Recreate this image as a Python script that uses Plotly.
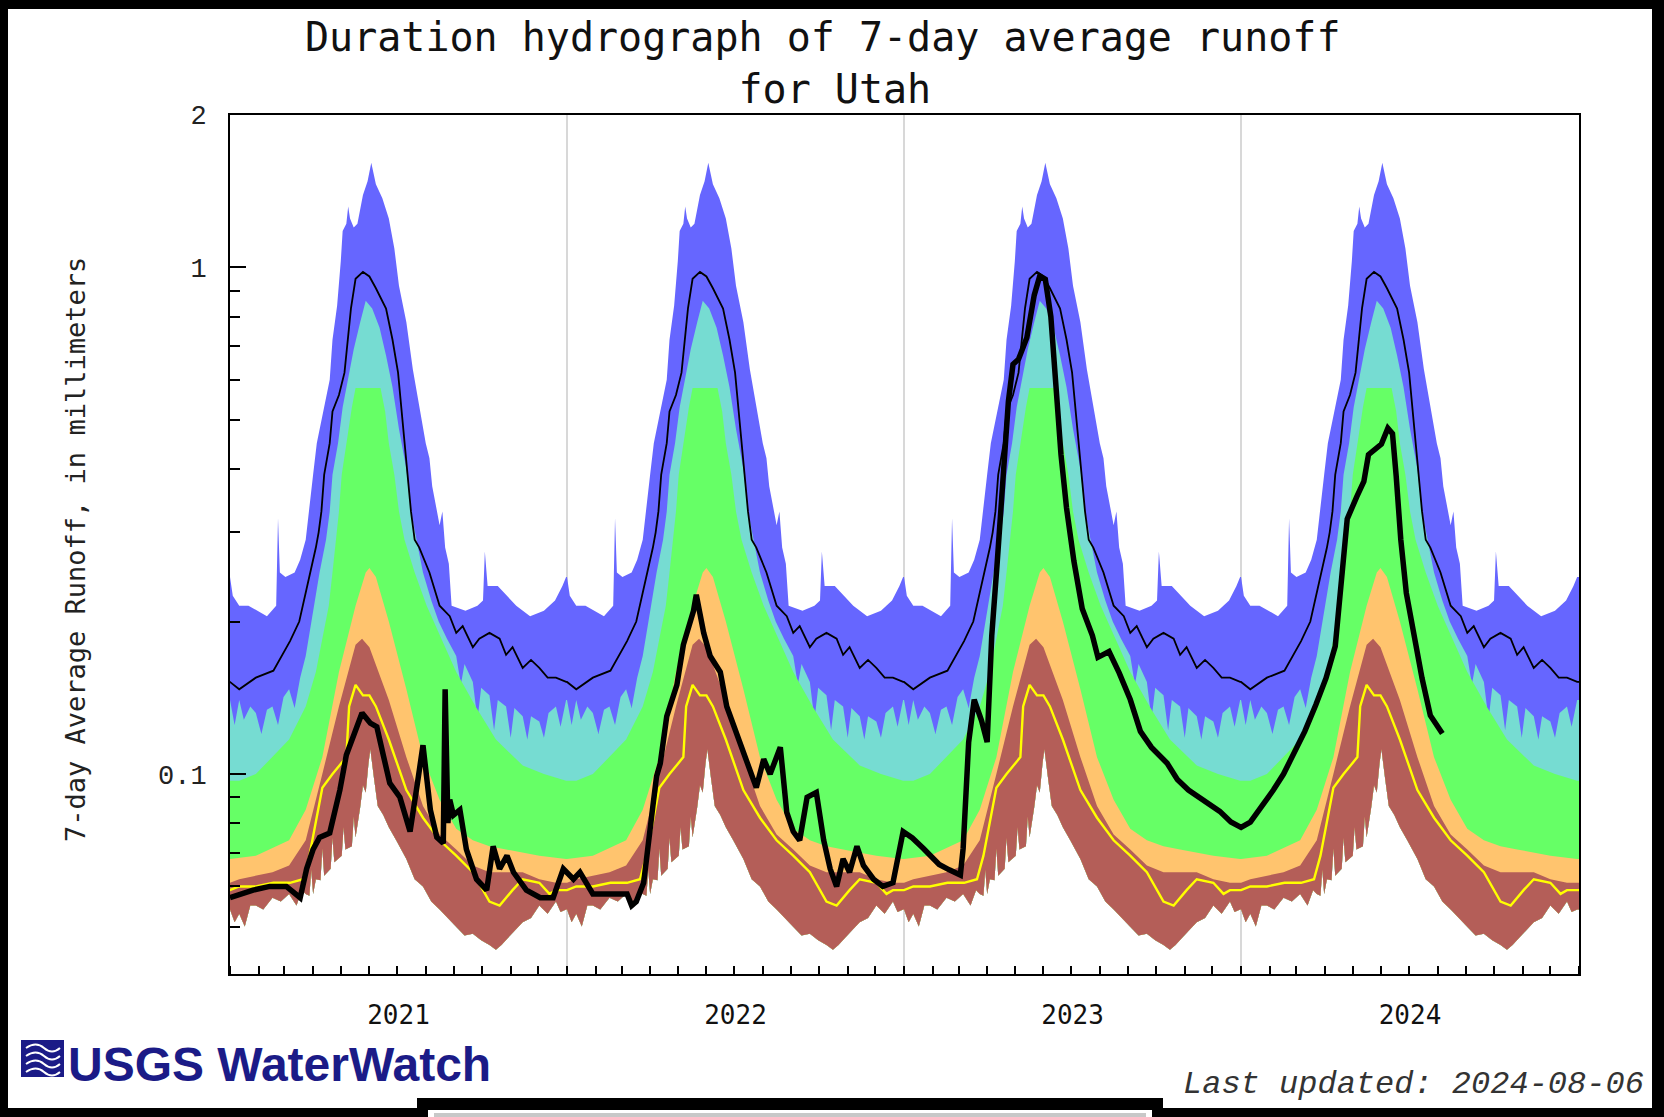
import math
import pandas as pd
import plotly.graph_objects as go

# ---- Daily duration statistics (day-of-year -> 7-day average runoff, mm) ----
max_doy = [0, 3, 10, 20, 30, 40, 50, 52, 54, 60, 70, 76, 82, 86, 90, 94, 99, 104, 108, 111, 116, 120, 122,
           126, 128, 130, 134, 138, 144, 149, 153, 158, 165, 172, 178, 183, 191, 198, 205, 212, 216, 219,
           227, 230, 233, 237, 240, 255, 268, 274, 276, 279, 290, 300, 310, 325, 340, 352, 360, 364]
max_val = [0.245, 0.225, 0.215, 0.215, 0.21, 0.205, 0.215, 0.32, 0.25, 0.245, 0.25, 0.265, 0.29, 0.34, 0.39,
           0.45, 0.50, 0.55, 0.60, 0.72, 0.84, 1.03, 1.18, 1.22, 1.32, 1.25, 1.20, 1.22, 1.39, 1.48, 1.61,
           1.46, 1.37, 1.25, 1.09, 0.92, 0.78, 0.63, 0.53, 0.45, 0.42, 0.37, 0.31, 0.33, 0.28, 0.26, 0.215,
           0.21, 0.215, 0.22, 0.275, 0.235, 0.235, 0.225, 0.215, 0.205, 0.21, 0.22, 0.235, 0.245]

p90_doy = [0, 5, 10, 15, 22, 28, 34, 40, 46, 52, 58, 64, 70, 76, 82, 90, 97, 104, 108, 111, 117, 122, 128,
           134, 141, 147, 154, 162, 169, 176, 183, 191, 196, 202, 209, 218, 226, 235, 245, 250, 254, 263,
           268, 272, 281, 286, 290, 299, 304, 308, 317, 322, 326, 335, 340, 345, 353, 358, 364]
p90_val = [0.14, 0.125, 0.14, 0.128, 0.136, 0.132, 0.12, 0.134, 0.136, 0.125, 0.142, 0.147, 0.135, 0.155,
           0.171, 0.21, 0.25, 0.29, 0.33, 0.39, 0.45, 0.53, 0.61, 0.69, 0.78, 0.86, 0.83, 0.76, 0.67, 0.58,
           0.48, 0.40, 0.33, 0.29, 0.25, 0.22, 0.20, 0.185, 0.171, 0.15, 0.165, 0.152, 0.128, 0.148, 0.143,
           0.122, 0.14, 0.136, 0.118, 0.135, 0.13, 0.117, 0.13, 0.127, 0.118, 0.132, 0.136, 0.124, 0.14]

p75_doy = [0, 10, 28, 46, 64, 82, 93, 100, 107, 111, 115, 118, 121, 126, 132, 136, 163, 168, 172, 178, 183,
           189, 200, 213, 229, 245, 266, 288, 317, 340, 364]
p75_val = [0.097, 0.097, 0.10, 0.108, 0.117, 0.136, 0.159, 0.185, 0.215, 0.25, 0.29, 0.33, 0.39, 0.45, 0.53,
           0.578, 0.578, 0.52, 0.45, 0.39, 0.33, 0.29, 0.25, 0.215, 0.185, 0.159, 0.136, 0.117, 0.104,
           0.10, 0.097]

p25_doy = [0, 28, 64, 82, 100, 118, 136, 147, 151, 158, 172, 191, 209, 227, 245, 263, 281, 299, 317, 335, 364]
p25_val = [0.068, 0.069, 0.074, 0.085, 0.108, 0.159, 0.215, 0.25, 0.255, 0.245, 0.20, 0.147, 0.108, 0.089,
           0.078, 0.074, 0.072, 0.071, 0.07, 0.069, 0.068]

p10_doy = [0, 10, 28, 46, 64, 82, 100, 118, 136, 143, 151, 172, 191, 209, 227, 245, 263, 281, 317, 335, 353, 364]
p10_val = [0.061, 0.062, 0.063, 0.064, 0.066, 0.074, 0.10, 0.136, 0.18, 0.185, 0.178, 0.14, 0.108, 0.0865,
           0.076, 0.071, 0.066, 0.064, 0.064, 0.062, 0.061, 0.061]

min_doy = [0, 5, 10, 16, 22, 28, 36, 46, 55, 64, 72, 78, 82, 86, 88, 90, 93, 98, 100, 102, 109, 111, 113,
           121, 123, 125, 132, 134, 136, 141, 144, 147, 150, 152, 154, 156, 160, 166, 172, 180, 191, 200,
           209, 218, 227, 236, 245, 254, 263, 272, 281, 288, 294, 299, 308, 317, 326, 335, 344, 353, 358, 364]
min_val = [0.054, 0.051, 0.053, 0.050, 0.055, 0.055, 0.054, 0.057, 0.056, 0.058, 0.055, 0.059, 0.058,
           0.0575, 0.0647, 0.058, 0.062, 0.0617, 0.0713, 0.063, 0.065, 0.0748, 0.067, 0.069, 0.0785, 0.071,
           0.072, 0.0824, 0.075, 0.086, 0.095, 0.092, 0.105, 0.112, 0.105, 0.098, 0.0865, 0.083, 0.0785,
           0.074, 0.068, 0.062, 0.060, 0.056, 0.054, 0.052, 0.050, 0.048, 0.0484, 0.047, 0.046, 0.045,
           0.046, 0.047, 0.049, 0.051, 0.052, 0.055, 0.053, 0.056, 0.0534, 0.054]

mean_doy = [0, 10, 28, 47, 65, 75, 86, 93, 96, 99, 102, 108, 111, 118, 124, 128, 131, 136, 144, 151, 158,
            169, 176, 182, 187, 192, 196, 200, 205, 216, 227, 238, 245, 252, 263, 270, 281, 292, 299, 306,
            317, 326, 335, 344, 353, 364]
mean_val = [0.152, 0.147, 0.155, 0.16, 0.183, 0.20, 0.245, 0.28, 0.30, 0.33, 0.39, 0.45, 0.52, 0.56, 0.62,
            0.72, 0.83, 0.95, 0.98, 0.96, 0.91, 0.83, 0.72, 0.62, 0.49, 0.39, 0.33, 0.29, 0.28, 0.25, 0.215,
            0.205, 0.19, 0.196, 0.178, 0.185, 0.19, 0.185, 0.172, 0.178, 0.162, 0.168, 0.162, 0.155, 0.155,
            0.152]

median_doy = [0, 10, 28, 47, 65, 79, 86, 100, 111, 126, 129, 136, 144, 151, 158, 172, 191, 209, 227, 245,
              263, 281, 292, 306, 317, 335, 346, 353, 364]
median_val = [0.059, 0.06, 0.06, 0.061, 0.061, 0.062, 0.069, 0.094, 0.10, 0.108, 0.136, 0.15, 0.143, 0.143,
              0.136, 0.117, 0.093, 0.082, 0.074, 0.069, 0.064, 0.056, 0.055, 0.059, 0.062, 0.061, 0.058,
              0.059, 0.059]

# ---- Observed 7-day average runoff, days counted from 2021-01-01 ----
obs_day = [0, 11, 25, 43, 61, 76, 83, 90, 97, 108, 119, 126, 133, 141, 143, 152, 159, 166, 173, 184, 195,
           203, 209, 217, 224, 231, 233, 236, 238, 242, 249, 256, 267, 278, 285, 292, 300, 307, 321, 336,
           350, 361, 372, 379, 393, 408, 430, 435, 440, 448, 451, 455, 458, 462, 466, 473, 476, 484, 491,
           495, 502, 505, 513, 520, 531, 538, 549, 560, 570, 578, 585, 596, 603, 610, 617, 625, 635, 643,
           650, 657, 664, 671, 679, 686, 697, 707, 718, 729, 739, 751, 756, 768, 779, 791, 794, 800, 806,
           814, 820, 825, 831, 837, 843, 848, 854, 863, 871, 877, 883, 889, 894, 900, 906, 914, 923, 934,
           940, 952, 963, 975, 986, 998, 1015, 1026, 1038, 1055, 1072, 1084, 1095, 1105, 1118, 1130, 1141,
           1153, 1164, 1176, 1187, 1197, 1205, 1210, 1220, 1228, 1233, 1240, 1247, 1254, 1259, 1263, 1268,
           1274, 1282, 1291, 1300, 1308, 1313]
obs_val = [0.057, 0.058, 0.059, 0.060, 0.060, 0.057, 0.065, 0.071, 0.075, 0.0765, 0.093, 0.109, 0.118, 0.130,
           0.132, 0.126, 0.124, 0.109, 0.096, 0.090, 0.077, 0.096, 0.114, 0.085, 0.075, 0.073, 0.147, 0.080,
           0.089, 0.083, 0.085, 0.071, 0.062, 0.059, 0.072, 0.065, 0.069, 0.064, 0.059, 0.057, 0.057, 0.065,
           0.062, 0.064, 0.058, 0.058, 0.058, 0.055, 0.056, 0.061, 0.069, 0.080, 0.0865, 0.099, 0.105, 0.130,
           0.136, 0.150, 0.18, 0.19, 0.21, 0.226, 0.19, 0.171, 0.159, 0.136, 0.12, 0.104, 0.094, 0.107, 0.10,
           0.113, 0.084, 0.077, 0.074, 0.09, 0.092, 0.074, 0.065, 0.06, 0.068, 0.064, 0.072, 0.066, 0.062,
           0.06, 0.061, 0.077, 0.0748, 0.0713, 0.0696, 0.0663, 0.0647, 0.0632, 0.0713, 0.1156, 0.1403,
           0.1274, 0.1156, 0.1876, 0.263, 0.369, 0.544, 0.644, 0.659, 0.727, 0.882, 0.962, 0.948, 0.80,
           0.599, 0.427, 0.335, 0.263, 0.212, 0.1876, 0.170, 0.1745, 0.1584, 0.1403, 0.1214, 0.1129, 0.105,
           0.0976, 0.093, 0.0886, 0.0844, 0.0804, 0.0785, 0.0804, 0.0865, 0.093, 0.1, 0.110, 0.1214, 0.137,
           0.1546, 0.1787, 0.2507, 0.319, 0.3517, 0.378, 0.427, 0.4375, 0.448, 0.4818, 0.470, 0.3877, 0.29,
           0.2276, 0.1876, 0.1546, 0.1305, 0.1243, 0.1202]

for a, b in [(max_doy, max_val), (p90_doy, p90_val), (p75_doy, p75_val), (p25_doy, p25_val),
             (p10_doy, p10_val), (min_doy, min_val), (mean_doy, mean_val), (median_doy, median_val),
             (obs_day, obs_val)]:
    assert len(a) == len(b)

YEARS = [2020, 2021, 2022, 2023, 2024, 2025]
START = pd.Timestamp("2021-01-01")

BLUE = "#6666ff"
CYAN = "#76dcd2"
GREEN = "#66ff66"
ORANGE = "#ffc46e"
BROWN = "#b45e58"


def tile(doy, val):
    """Repeat a day-of-year statistic across every calendar year shown."""
    xs, ys = [], []
    for yr in YEARS:
        base = pd.Timestamp(f"{yr}-01-01")
        for d, v in zip(doy, val):
            xs.append(base + pd.Timedelta(days=d))
            ys.append(v)
    return xs, ys


fig = go.Figure()

low_x, low_y = tile(min_doy, min_val)
bands = [(max_doy, max_val, BLUE), (p90_doy, p90_val, CYAN), (p75_doy, p75_val, GREEN),
         (p25_doy, p25_val, ORANGE), (p10_doy, p10_val, BROWN)]
for doy, val, colour in bands:
    ux, uy = tile(doy, val)
    fig.add_trace(go.Scatter(x=ux + low_x[::-1], y=uy + low_y[::-1], mode="lines", fill="toself",
                             fillcolor=colour, line=dict(width=0), hoverinfo="skip", showlegend=False))

mx, my = tile(mean_doy, mean_val)
fig.add_trace(go.Scatter(x=mx, y=my, mode="lines", line=dict(color="black", width=1.8),
                         showlegend=False))
qx, qy = tile(median_doy, median_val)
fig.add_trace(go.Scatter(x=qx, y=qy, mode="lines", line=dict(color="#ffff00", width=2.4),
                         showlegend=False))

obs_x = [START + pd.Timedelta(days=d) for d in obs_day]
fig.add_trace(go.Scatter(x=obs_x, y=obs_val, mode="lines", line=dict(color="black", width=5.5),
                         showlegend=False))

# ---- page geometry helpers (pixels -> paper fractions) ----
L, R, T, B, W, H = 230, 1579, 115, 974, 1664, 1117


def px(x):
    return (x - L) / (R - L)


def py(y):
    return (B - y) / (B - T)


shapes = []


def box(x0, y0, x1, y1, colour):
    shapes.append(dict(type="rect", xref="paper", yref="paper", x0=px(x0), x1=px(x1), y0=py(y1), y1=py(y0),
                       fillcolor=colour, line=dict(width=0), layer="above"))


# outer frame
box(0, 0, W, 9, "black")
box(0, 0, 8, H, "black")
box(1652, 0, W, H, "black")
box(0, 1108, 420, H, "black")
box(1157, 1108, W, H, "black")
box(417, 1098, 1163, H, "black")
box(428, 1110, 1152, H, "white")
box(434, 1113, 1146, H, "#c8c8c8")

# logo mark
box(21, 1040, 64, 1077, "#1b1b87")
for k in range(4):
    yy = 1048 + k * 8
    shapes.append(dict(type="path", xref="paper", yref="paper", layer="above",
                       path=(f"M {px(26)} {py(yy)} Q {px(36)} {py(yy - 7)} {px(44)} {py(yy)} "
                             f"T {px(60)} {py(yy)}"),
                       line=dict(color="white", width=2)))

annotations = [
    dict(text="Duration hydrograph of 7-day average runoff<br>&nbsp;for Utah", x=px(823), y=py(63),
         xref="paper", yref="paper", showarrow=False, xanchor="center", yanchor="middle", align="center",
         font=dict(family="DejaVu Sans Mono", size=40, color="#111")),
    dict(text="7-day Average Runoff, in millimeters", x=px(75), y=py(550), xref="paper", yref="paper",
         showarrow=False, textangle=-90, xanchor="center", yanchor="middle",
         font=dict(family="DejaVu Sans Mono", size=27, color="#222")),
    dict(text="<b>USGS WaterWatch</b>", x=px(66), y=py(1064), xref="paper", yref="paper",
         showarrow=False, xanchor="left", yanchor="middle",
         font=dict(family="Liberation Sans", size=48, color="#1b1b87")),
    dict(text="<i>Last updated: 2024-08-06</i>", x=px(1646), y=py(1084), xref="paper", yref="paper",
         showarrow=False, xanchor="right", yanchor="middle",
         font=dict(family="Liberation Mono", size=32, color="#333")),
]

fig.update_layout(
    width=W, height=H,
    margin=dict(l=L, r=W - R, t=T, b=H - B, pad=0),
    paper_bgcolor="white", plot_bgcolor="white",
    showlegend=False,
    shapes=shapes,
    annotations=annotations,
    xaxis=dict(
        type="date", range=["2021-01-01", "2025-01-01"],
        tick0="2021-01-01", dtick="M12", ticklabelmode="period", tickformat="%Y",
        ticks="inside", ticklen=8, tickwidth=2, tickcolor="black",
        showgrid=True, gridcolor="#d8d8d8", gridwidth=2,
        showline=True, linecolor="black", linewidth=2, mirror=True,
        minor=dict(dtick="M1", ticks="inside", ticklen=8, tickwidth=2, tickcolor="black", showgrid=False),
        tickfont=dict(family="DejaVu Sans Mono", size=26, color="#111"),
        ticklabelstandoff=17, zeroline=False,
    ),
    yaxis=dict(
        type="log", range=[math.log10(0.0403), math.log10(2)],
        tickvals=[0.1, 1, 2], ticktext=["0.1", "1", "2"],
        ticks="inside", ticklen=16, tickwidth=2, tickcolor="black",
        minor=dict(tickvals=[0.05, 0.06, 0.07, 0.08, 0.09, 0.2, 0.3, 0.4, 0.5, 0.6, 0.7, 0.8, 0.9],
                   ticks="inside", ticklen=10, tickwidth=2, tickcolor="black", showgrid=False),
        showgrid=False, showline=True, linecolor="black", linewidth=2, mirror=True,
        tickfont=dict(family="Liberation Mono", size=27, color="#222"),
        ticklabelstandoff=16, zeroline=False,
    ),
)

fig.write_html("out.html")
